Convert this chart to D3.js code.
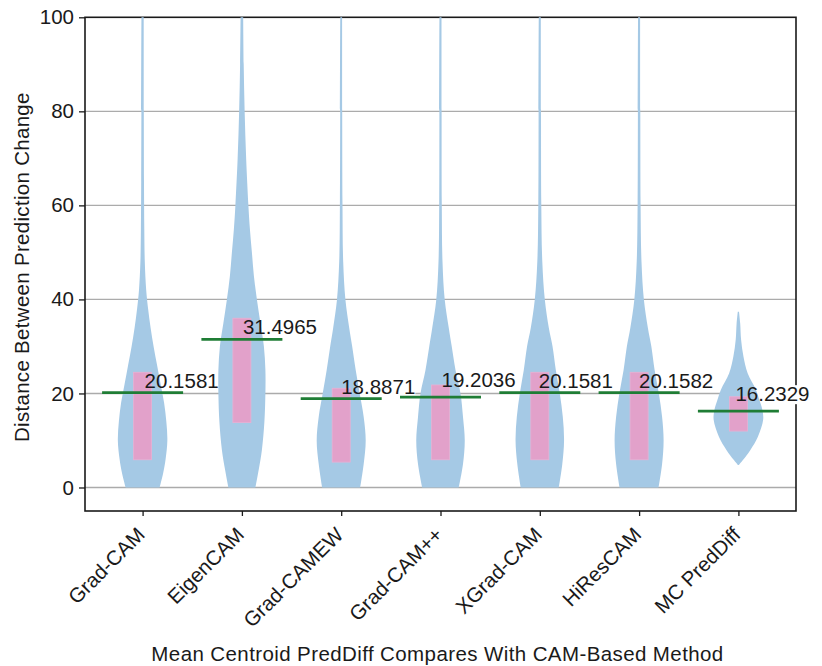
<!DOCTYPE html>
<html>
<head>
<meta charset="utf-8">
<script src="https://cdn.jsdelivr.net/npm/d3@7"></script>
<style>
  body { margin: 0; background: #fff; }
  text { font-family: "Liberation Sans", Arial, Helvetica, sans-serif; }
</style>
</head>
<body>
<svg id="chart"></svg>
<script>
// methods on the x axis
const categories = ['Grad-CAM', 'EigenCAM', 'Grad-CAMEW', 'Grad-CAM++', 'XGrad-CAM', 'HiResCAM', 'MC PredDiff'];
// mean distance (green line + label)
const means = [20.1581, 31.4965, 18.8871, 19.2036, 20.1581, 20.1582, 16.2329];
// inner box (pink) low / high
const boxLow  = [5.9, 13.8, 5.4, 5.9, 5.9, 5.9, 12.0];
const boxHigh = [24.5, 36.0, 21.1, 21.8, 24.5, 24.5, 19.3];
const yTicks = [0, 20, 40, 60, 80, 100];
const gridTicks = [0, 20, 40, 60, 80];

// violin profiles: [value, relative density]
const gradCamDensity = [[0,.68],[3,.82],[6,.92],[10,.99],[14,.95],[18,.86],[22,.72],[26,.58],[30,.44],[34,.32],[38,.22],[42,.144],[48,.088],[55,.068],[65,.056],[80,.048],[100,.044]];
const eigenCamDensity = [[0,.54],[4,.68],[8,.80],[14,.90],[20,.94],[25,.94],[30,.88],[35,.74],[40,.60],[45,.48],[50,.40],[55,.32],[60,.26],[70,.17],[80,.11],[90,.072],[100,.052]];
const gradCamEwDensity = [[0,.76],[5,.90],[10,.98],[15,.90],[20,.74],[25,.58],[30,.44],[34,.32],[40,.168],[48,.08],[60,.052],[80,.04],[100,.036]];
const gradCamPPDensity = [[0,.73],[5,.90],[10,.97],[15,.90],[20,.80],[25,.60],[30,.45],[34,.33],[40,.168],[48,.08],[60,.052],[80,.044],[100,.04]];
const xGradCamDensity = [[0,.76],[5,.90],[10,.97],[15,.92],[20,.80],[25,.64],[30,.51],[34,.36],[40,.20],[48,.10],[60,.06],[80,.048],[100,.04]];
const hiResCamDensity = [[0,.78],[5,.92],[10,.98],[15,.92],[20,.79],[25,.62],[30,.49],[34,.35],[40,.19],[48,.096],[60,.06],[80,.048],[100,.04]];
const mcPredDiffDensity = [[4.8,.02],[5.9,.19],[8,.48],[10.8,.78],[14.4,.99],[16.5,.96],[18.6,.84],[20.8,.70],[24.3,.37],[27.9,.20],[31.4,.108],[34.9,.072],[37.4,.024]];
const densities = [gradCamDensity, eigenCamDensity, gradCamEwDensity, gradCamPPDensity, xGradCamDensity, hiResCamDensity, mcPredDiffDensity];

// label nudges (layout only)
const labelLift = [5, 5, 5, 10, 5, 5, 10];
const labelDx = [2, 1, 0, 1, -1, 0, -3];

const W = 822, H = 666;
const margin = {top: 17.3, right: 26, bottom: 155, left: 85};
const fontSize = 20.5;

const svg = d3.select('#chart').attr('width', W).attr('height', H);

const x = d3.scalePoint()
    .domain(categories)
    .range([margin.left, W - margin.right])
    .padding(0.58);
const y = d3.scaleLinear()
    .domain([-5, 100])
    .range([H - margin.bottom, margin.top]);
const halfWidth = d3.scaleLinear().domain([0, 1]).range([0, 25]);

// grid
svg.append('g').classed('grid', true)
    .selectAll('line').data(gridTicks).join('line')
    .attr('x1', margin.left).attr('x2', W - margin.right)
    .attr('y1', d => y(d)).attr('y2', d => y(d))
    .attr('stroke', '#ababab').attr('stroke-width', 1.4);

// frame
svg.append('rect')
    .attr('x', margin.left).attr('y', margin.top)
    .attr('width', W - margin.right - margin.left)
    .attr('height', H - margin.bottom - margin.top)
    .attr('fill', 'none').attr('stroke', '#1a1a1a').attr('stroke-width', 1.6);

// axes
let yAxis = d3.axisLeft(y).tickValues(yTicks).tickSize(6).tickPadding(5);
let yg = svg.append('g').attr('transform', 'translate(' + margin.left + ',0)').call(yAxis);
yg.select('.domain').remove();
yg.selectAll('line').attr('stroke', '#1a1a1a').attr('stroke-width', 1.3);
yg.selectAll('text').attr('font-size', fontSize).attr('fill', '#1a1a1a')
    .attr('font-family', null);

let xAxis = d3.axisBottom(x).tickSize(5);
let xg = svg.append('g').attr('transform', 'translate(0,' + (H - margin.bottom) + ')').call(xAxis);
xg.select('.domain').remove();
xg.selectAll('line').attr('stroke', '#1a1a1a').attr('stroke-width', 1.3);
xg.selectAll('text')
    .attr('font-size', fontSize).attr('fill', '#1a1a1a').attr('font-family', null)
    .attr('x', 0).attr('y', 0).attr('dy', 0)
    .attr('text-anchor', 'end')
    .attr('transform', 'translate(3,25) rotate(-45)');

// axis titles
svg.append('text')
    .attr('x', (margin.left + W - margin.right) / 2 - 3)
    .attr('y', 661)
    .attr('text-anchor', 'middle')
    .attr('font-size', fontSize).attr('fill', '#1a1a1a')
    .style('letter-spacing', '0.4px')
    .text('Mean Centroid PredDiff Compares With CAM-Based Method');

svg.append('text')
    .attr('transform', 'translate(29,' + ((margin.top + H - margin.bottom) / 2 + 3) + ') rotate(-90)')
    .attr('text-anchor', 'middle')
    .attr('font-size', fontSize).attr('fill', '#1a1a1a')
    .style('letter-spacing', '0.3px')
    .text('Distance Between Prediction Change');

let labelBg = svg.append('g').classed('label-bg', true);

// violins
let area = d3.area()
    .curve(d3.curveCatmullRom)
    .y(d => y(d[0]));

let violins = svg.append('g').classed('violins', true);
categories.forEach((c, i) => {
    let cx = x(c);
    violins.append('path')
        .datum(densities[i])
        .attr('d', area.x0(d => cx - halfWidth(d[1])).x1(d => cx + halfWidth(d[1])))
        .attr('fill', '#a5c9e5');
});

// boxes
svg.append('g').classed('boxes', true)
    .selectAll('rect').data(categories).join('rect')
    .attr('x', d => x(d) - 9)
    .attr('width', 18)
    .attr('y', (d, i) => y(boxHigh[i]))
    .attr('height', (d, i) => y(boxLow[i]) - y(boxHigh[i]))
    .attr('fill', '#e2a1ca')
    .attr('stroke', '#e8b0d3').attr('stroke-width', 0.8);

// mean lines
svg.append('g').classed('means', true)
    .selectAll('line').data(categories).join('line')
    .attr('x1', d => x(d) - 40.5)
    .attr('x2', d => x(d) + 40.5)
    .attr('y1', (d, i) => y(means[i]))
    .attr('y2', (d, i) => y(means[i]))
    .attr('stroke', '#1f7d35').attr('stroke-width', 2.8);

// mean labels
let labels = svg.append('g').classed('labels', true)
    .selectAll('text').data(categories).join('text')
    .attr('x', (d, i) => x(d) + labelDx[i])
    .attr('y', (d, i) => y(means[i]) - labelLift[i])
    .attr('font-size', fontSize).attr('fill', '#1a1a1a')
    .text((d, i) => means[i].toFixed(4));

labels.each(function() {
    let b = this.getBBox();
    labelBg.append('rect')
        .attr('x', b.x).attr('y', b.y + 3)
        .attr('width', b.width).attr('height', b.height - 4)
        .attr('fill', '#fff');
});
</script>
</body>
</html>
